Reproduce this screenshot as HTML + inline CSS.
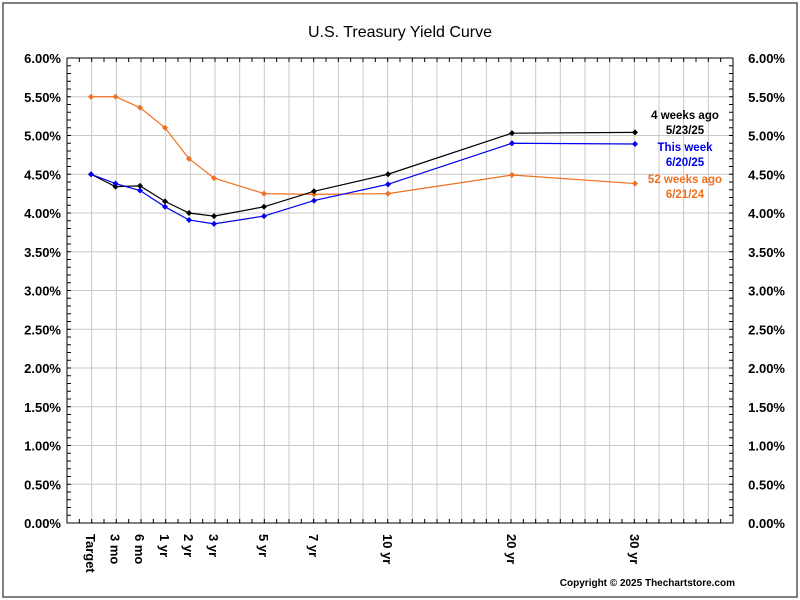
<!DOCTYPE html>
<html><head><meta charset="utf-8"><style>
html,body{margin:0;padding:0;background:#fff}
svg{display:block;font-family:"Liberation Sans",Arial,sans-serif}
</style></head><body>
<svg id="c" width="800" height="600" xmlns="http://www.w3.org/2000/svg">
<rect x="3" y="3" width="794" height="594" fill="#fff" stroke="#555" stroke-width="1.5"/>
<text x="400" y="37" font-size="16" text-anchor="middle" fill="#000">U.S. Treasury Yield Curve</text>
<g id="g"></g>
<text x="685" y="119" font-size="11.5" font-weight="bold" text-anchor="middle" fill="#000">4 weeks ago</text>
<text x="685" y="134" font-size="11.5" font-weight="bold" text-anchor="middle" fill="#000">5/23/25</text>
<text x="685" y="151" font-size="11.5" font-weight="bold" text-anchor="middle" fill="#0000ee">This week</text>
<text x="685" y="166" font-size="11.5" font-weight="bold" text-anchor="middle" fill="#0000ee">6/20/25</text>
<text x="685" y="183" font-size="11.5" font-weight="bold" text-anchor="middle" fill="#f07020">52 weeks ago</text>
<text x="685" y="198" font-size="11.5" font-weight="bold" text-anchor="middle" fill="#f07020">6/21/24</text>
<text x="735" y="586" font-size="10" font-weight="bold" text-anchor="end" fill="#000">Copyright © 2025 Thechartstore.com</text>
</svg>
<script>
var g=document.getElementById('g'),s='';
var L=67,R=733,T=58,B=523,dx=(R-L)/27,dy=(B-T)/12;
function Y(v){return B-v*(B-T)/6;}
for(var i=1;i<27;i++){var x=L+i*dx;s+='<line x1="'+x+'" y1="'+T+'" x2="'+x+'" y2="'+B+'" stroke="#c8c8c8"/>';}
for(var j=1;j<12;j++){var y=T+j*dy;s+='<line x1="'+L+'" y1="'+y+'" x2="'+R+'" y2="'+y+'" stroke="#c8c8c8"/>';}
for(var k=0;k<=60;k++){var y=Y(k/10);s+='<line x1="'+L+'" y1="'+y+'" x2="'+(L+4)+'" y2="'+y+'" stroke="#000"/><line x1="'+(R-4)+'" y1="'+y+'" x2="'+R+'" y2="'+y+'" stroke="#000"/>';}
for(var i=0;i<=54;i++){var x=L+i*dx/2;s+='<line x1="'+x+'" y1="'+T+'" x2="'+x+'" y2="'+(T+4)+'" stroke="#000"/><line x1="'+x+'" y1="'+(B-4)+'" x2="'+x+'" y2="'+B+'" stroke="#000"/>';}
s+='<rect x="'+L+'" y="'+T+'" width="'+(R-L)+'" height="'+(B-T)+'" fill="none" stroke="#000"/>';
for(var j=0;j<=12;j++){var v=(j*0.5).toFixed(2)+'%',y=Y(j*0.5)+5;
s+='<text x="61" y="'+y+'" font-size="13" font-weight="bold" text-anchor="end">'+v+'</text>';
s+='<text x="785" y="'+y+'" font-size="13" font-weight="bold" text-anchor="end">'+v+'</text>';}
var xs=[91,115.5,140,165,189,214,264,314,388,512,635];
var lab=['Target','3 mo','6 mo','1 yr','2 yr','3 yr','5 yr','7 yr','10 yr','20 yr','30 yr'];
for(var i=0;i<xs.length;i++){s+='<text transform="translate('+(xs[i]-5)+',534) rotate(90)" font-size="13" font-weight="bold">'+lab[i]+'</text>';}
function ser(d,c){var p='';for(var i=0;i<d.length;i++)p+=xs[i]+','+Y(d[i])+' ';
var o='<polyline points="'+p+'" fill="none" stroke="'+c+'" stroke-width="1.2"/>';
for(var i=0;i<d.length;i++){var x=xs[i],y=Y(d[i]);o+='<polygon points="'+x+','+(y-3)+' '+(x+3)+','+y+' '+x+','+(y+3)+' '+(x-3)+','+y+'" fill="'+c+'"/>';}
return o;}
s+=ser([5.50,5.50,5.36,5.10,4.70,4.45,4.25,4.24,4.25,4.49,4.38],'#f07020');
s+=ser([4.50,4.34,4.35,4.15,4.00,3.96,4.08,4.28,4.50,5.03,5.04],'#000');
s+=ser([4.50,4.38,4.29,4.08,3.91,3.86,3.96,4.16,4.37,4.90,4.89],'#0000ee');
g.innerHTML=s;
</script>
</body></html>
